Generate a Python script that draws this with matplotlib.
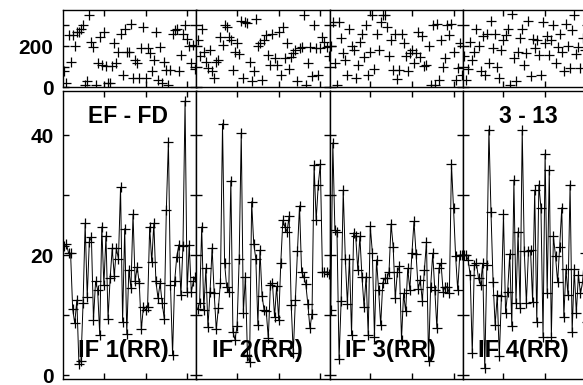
import numpy as np
import matplotlib
matplotlib.use('Agg')
import matplotlib.pyplot as plt

plt.rcParams['font.family'] = ['Liberation Sans', 'DejaVu Sans']
plt.rcParams['font.weight'] = 'bold'

'''Data: 64 channels per IF, read off the picture'''
channels = np.arange(1, 65)
if_labels = ['IF 1(RR)', 'IF 2(RR)', 'IF 3(RR)', 'IF 4(RR)']

amp_if1 = [21.5, 21.8, 20.4, 20.3, 11, 8.6, 12.5, 1.9, 2.4, 12, 25.3, 13, 22.2, 23, 9.2, 15.6,
           14.2, 6.7, 24.7, 15, 23.2, 9.4, 16.1, 21.1, 16.5, 21.1, 19.4, 31.3, 8.9, 24.4, 6.9, 17.5,
           14.5, 26.8, 15.6, 18, 15.3, 7.6, 11.4, 10.8, 11.4, 24.7, 18.8, 25.3, 15.6, 12.8, 15.3, 12,
           9.4, 27.5, 38.9, 15, 3.4, 15.6, 19.7, 21.7, 13.3, 21.5, 45.7, 13.9, 21.7, 13.9, 15.6, 16.4]
amp_if2 = [11, 12, 24.7, 10.8, 17.8, 8, 13.9, 21.2, 13.6, 7.6, 11.1, 15.4, 41.9, 18.6, 14.7, 13.9,
           32.4, 7.2, 5.9, 8.2, 19.3, 40.4, 10.4, 16.4, 3.1, 2.1, 28.9, 21.9, 19.4, 8.3, 20.8, 13.2,
           10.8, 10.7, 6.1, 15, 15.3, 9.7, 14.8, 9.2, 18.7, 25.8, 24.7, 23.9, 26.5, 11.7, 3.6, 12.5,
           20.6, 28.2, 17.2, 16.4, 15.2, 11.8, 7.8, 10.2, 35, 25.8, 31.7, 35.2, 17.2, 17.1, 17.2, 16.8]
amp_if3 = [10.8, 38.7, 24.2, 23.9, 2.6, 12.4, 30.8, 19.4, 11.9, 19.4, 6.7, 23.7, 23.1, 17.5, 23.1, 16.4,
           11.4, 16.4, 6.7, 24.8, 20.4, 6.4, 19.2, 14.2, 8.3, 15.4, 16.1, 16.1, 17.2, 25.2, 21.4, 12.8,
           17.1, 18.1, 5.9, 13.6, 10.6, 17.8, 14.2, 20.3, 25.6, 20.2, 14.4, 15.8, 12.4, 17.5, 22.2, 2.4,
           14.7, 20.3, 14.2, 7.8, 17.8, 18.6, 13.9, 14.7, 14.7, 13.6, 35.2, 27.8, 19.8, 14.2, 20, 20]
amp_if4 = [20, 20, 19.2, 16.7, 3.6, 18.3, 18.6, 16.1, 15, 18.6, 1.1, 18.3, 40.9, 27.1, 15.5, 8.3,
           13.3, 3.1, 13.1, 26.8, 10.3, 13.9, 20.2, 8.1, 32.5, 12, 23.9, 11.1, 40.8, 20.6, 12, 20.6,
           20.8, 12.2, 30.8, 8.9, 31.7, 27.9, 6.4, 36.9, 13.6, 34.2, 6.4, 23.1, 19.8, 15.5, 21.4, 27.9,
           9.7, 17.6, 13.3, 31.7, 7.2, 17.6, 10.3, 16.7, 13.6, 15.5, 20.3, 8.9, 14, 18, 12, 16]

pha_if1 = [78, 21, 252, 124, 252, 200, 268, 268, 284, 300, 14, 30, 348, 220, 197, 14,
           117, 244, 109, 268, 102, 22, 22, 102, 213, 117, 173, 260, 62, 284, 173, 173,
           308, 46, 133, 117, 46, 189, 292, 46, 189, 165, 78, 133, 268, 38, 197, 21,
           124, 84, 14, 84, 260, 276, 284, 78, 157, 260, 300, 236, 200, 120, 205, 90]
pha_if2 = [230, 150, 284, 173, 124, 95, 181, 78, 46, 124, 130, 244, 205, 300, 290, 244,
           228, 84, 173, 213, 160, 323, 46, 316, 310, 124, 30, 78, 332, 200, 213, 38,
           228, 252, 157, 110, 260, 141, 109, 268, 62, 292, 141, 213, 90, 149, 165, 181,
           30, 190, 197, 348, 14, 120, 197, 54, 300, 189, 60, 189, 244, 220, 197, 150]
pha_if3 = [200, 316, 120, 14, 316, 240, 165, 133, 60, 284, 200, 181, 46, 110, 220, 260,
           149, 300, 62, 173, 350, 90, 260, 180, 316, 348, 348, 292, 150, 230, 84, 260,
           40, 84, 260, 213, 150, 78, 165, 181, 120, 165, 268, 149, 250, 102, 109, 200,
           14, 300, 14, 308, 38, 228, 100, 141, 300, 252, 308, 170, 38, 94, 213, 60]
pha_if4 = [150, 38, 90, 220, 130, 173, 284, 200, 78, 250, 62, 260, 120, 323, 190, 260,
           100, 46, 181, 230, 252, 284, 14, 355, 140, 30, 173, 240, 284, 109, 165, 320,
           54, 236, 190, 228, 157, 60, 316, 213, 250, 157, 228, 300, 120, 197, 260, 173,
           80, 308, 200, 94, 276, 348, 160, 197, 94, 240, 180, 300, 120, 260, 200, 150]

amps = [amp_if1, amp_if2, amp_if3, amp_if4]
phases = [pha_if1, pha_if2, pha_if3, pha_if4]

'''Layout (figure fractions)'''
fig = plt.figure(figsize=(5.83, 3.85), dpi=100)
left0 = 63.3 / 583
pw = 133.2 / 583
top_b, top_h = 1 - 87.4 / 385, 77.4 / 385
bot_b, bot_h = 1 - 378.5 / 385, (378.5 - 90.7) / 385

def style(ax):
    ax.tick_params(direction='in', length=4.5, width=1, top=True, right=True,
                   labelsize=15, pad=7)
    for s in ax.spines.values():
        s.set_linewidth(1)

for i in range(4):
    x0 = left0 + i * pw

    # phase panel
    axp = fig.add_axes([x0, top_b, pw, top_h])
    axp.plot(channels, phases[i], '+', color='black', ms=7.5, mew=0.9)
    axp.set_xlim(0.5, 64.5)
    axp.set_ylim(0, 374)
    axp.set_xticks([20, 40, 60])
    axp.set_xticklabels([])
    axp.set_yticks([0, 100, 200, 300])
    if i == 0:
        axp.set_yticklabels(['0', '', '200', ''])
    else:
        axp.set_yticklabels([])
    style(axp)

    # amplitude panel
    axa = fig.add_axes([x0, bot_b, pw, bot_h])
    axa.plot(channels, amps[i], '-+', color='black', lw=0.7, ms=7, mew=0.9)
    axa.set_xlim(0.5, 64.5)
    axa.set_ylim(-0.58, 47.4)
    axa.set_xticks([20, 40, 60])
    axa.set_xticklabels([])
    axa.set_yticks([0, 10, 20, 30, 40])
    if i == 0:
        axa.set_yticklabels(['0', '', '20', '', '40'])
        # keep the lowest label inside the figure
        axa.get_yticklabels()[0].set_va('center_baseline')
    else:
        axa.set_yticklabels([])
    style(axa)

    axa.text(0.113, 0.073, if_labels[i], transform=axa.transAxes, fontsize=17,
             fontweight='bold', ha='left', va='baseline')
    if i == 0:
        axa.text(0.183, 0.888, 'EF - FD', transform=axa.transAxes, fontsize=16.5,
                 fontweight='bold', ha='left', va='baseline')
    if i == 3:
        axa.text(0.273, 0.888, '3 - 13', transform=axa.transAxes, fontsize=16.5,
                 fontweight='bold', ha='left', va='baseline')

fig.savefig('out.png', dpi=100)
